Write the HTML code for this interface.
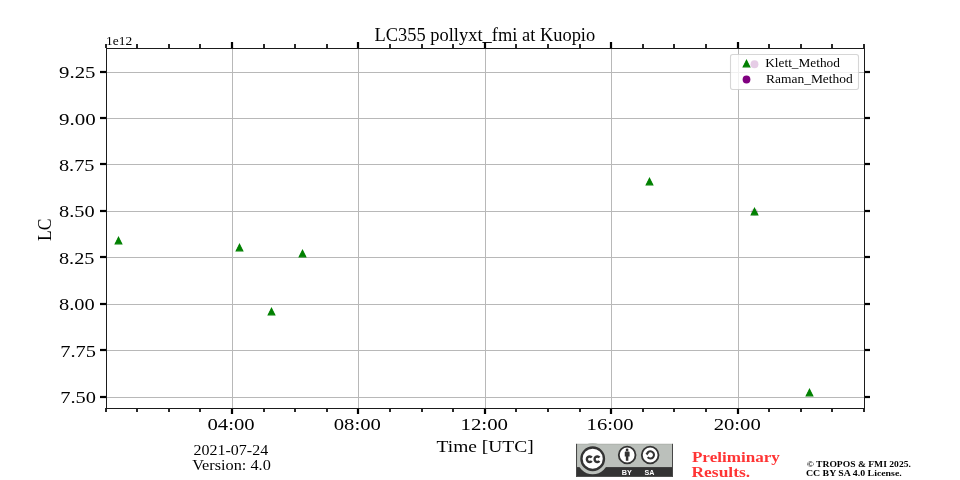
<!DOCTYPE html>
<html lang="en">
<head>
<meta charset="utf-8">
<title>LC355 pollyxt_fmi at Kuopio</title>
<style>
html,body{margin:0;padding:0;background:#fff;}
body{width:960px;height:480px;overflow:hidden;font-family:"Liberation Serif",serif;}
svg{display:block;}
text{white-space:pre;}
</style>
</head>
<body>
<svg width="960" height="480" viewBox="0 0 960 480">
<rect x="0" y="0" width="960" height="480" fill="#fff"/>
<g fill="#b8b8b8">
<rect x="232" y="49" width="1" height="359"/>
<rect x="358" y="49" width="1" height="359"/>
<rect x="485" y="49" width="1" height="359"/>
<rect x="611" y="49" width="1" height="359"/>
<rect x="738" y="49" width="1" height="359"/>
<rect x="107" y="72" width="757" height="1"/>
<rect x="107" y="118" width="757" height="1"/>
<rect x="107" y="164" width="757" height="1"/>
<rect x="107" y="211" width="757" height="1"/>
<rect x="107" y="257" width="757" height="1"/>
<rect x="107" y="304" width="757" height="1"/>
<rect x="107" y="350" width="757" height="1"/>
<rect x="107" y="397" width="757" height="1"/>
</g>
<circle cx="754.5" cy="212.3" r="3.5" fill="#800080" fill-opacity="0.2"/>
<g fill="#008000" stroke="#008000" stroke-width="1.111" stroke-linejoin="miter" stroke-miterlimit="10">
<path d="M118.50 237.167L115.167 243.833L121.833 243.833Z"/>
<path d="M239.50 244.167L236.167 250.833L242.833 250.833Z"/>
<path d="M271.50 308.167L268.167 314.833L274.833 314.833Z"/>
<path d="M302.50 250.167L299.167 256.833L305.833 256.833Z"/>
<path d="M649.50 178.167L646.167 184.833L652.833 184.833Z"/>
<path d="M754.50 208.167L751.167 214.833L757.833 214.833Z"/>
<path d="M809.50 389.167L806.167 395.833L812.833 395.833Z"/>
</g>
<g fill="#000">
<rect x="100" y="70.889" width="6" height="2.222"/>
<rect x="864" y="70.889" width="6" height="2.222"/>
<rect x="100" y="116.889" width="6" height="2.222"/>
<rect x="864" y="116.889" width="6" height="2.222"/>
<rect x="100" y="162.889" width="6" height="2.222"/>
<rect x="864" y="162.889" width="6" height="2.222"/>
<rect x="100" y="209.889" width="6" height="2.222"/>
<rect x="864" y="209.889" width="6" height="2.222"/>
<rect x="100" y="255.889" width="6" height="2.222"/>
<rect x="864" y="255.889" width="6" height="2.222"/>
<rect x="100" y="302.889" width="6" height="2.222"/>
<rect x="864" y="302.889" width="6" height="2.222"/>
<rect x="100" y="348.889" width="6" height="2.222"/>
<rect x="864" y="348.889" width="6" height="2.222"/>
<rect x="100" y="395.889" width="6" height="2.222"/>
<rect x="864" y="395.889" width="6" height="2.222"/>
<rect x="230.889" y="42" width="2.222" height="6"/>
<rect x="230.889" y="408" width="2.222" height="6"/>
<rect x="356.889" y="42" width="2.222" height="6"/>
<rect x="356.889" y="408" width="2.222" height="6"/>
<rect x="483.889" y="42" width="2.222" height="6"/>
<rect x="483.889" y="408" width="2.222" height="6"/>
<rect x="609.889" y="42" width="2.222" height="6"/>
<rect x="609.889" y="408" width="2.222" height="6"/>
<rect x="736.889" y="42" width="2.222" height="6"/>
<rect x="736.889" y="408" width="2.222" height="6"/>
<rect x="105.167" y="44" width="1.667" height="4"/>
<rect x="105.167" y="408" width="1.667" height="4"/>
<rect x="136.167" y="44" width="1.667" height="4"/>
<rect x="136.167" y="408" width="1.667" height="4"/>
<rect x="168.167" y="44" width="1.667" height="4"/>
<rect x="168.167" y="408" width="1.667" height="4"/>
<rect x="199.167" y="44" width="1.667" height="4"/>
<rect x="199.167" y="408" width="1.667" height="4"/>
<rect x="263.167" y="44" width="1.667" height="4"/>
<rect x="263.167" y="408" width="1.667" height="4"/>
<rect x="294.167" y="44" width="1.667" height="4"/>
<rect x="294.167" y="408" width="1.667" height="4"/>
<rect x="326.167" y="44" width="1.667" height="4"/>
<rect x="326.167" y="408" width="1.667" height="4"/>
<rect x="389.167" y="44" width="1.667" height="4"/>
<rect x="389.167" y="408" width="1.667" height="4"/>
<rect x="421.167" y="44" width="1.667" height="4"/>
<rect x="421.167" y="408" width="1.667" height="4"/>
<rect x="452.167" y="44" width="1.667" height="4"/>
<rect x="452.167" y="408" width="1.667" height="4"/>
<rect x="515.167" y="44" width="1.667" height="4"/>
<rect x="515.167" y="408" width="1.667" height="4"/>
<rect x="547.167" y="44" width="1.667" height="4"/>
<rect x="547.167" y="408" width="1.667" height="4"/>
<rect x="579.167" y="44" width="1.667" height="4"/>
<rect x="579.167" y="408" width="1.667" height="4"/>
<rect x="642.167" y="44" width="1.667" height="4"/>
<rect x="642.167" y="408" width="1.667" height="4"/>
<rect x="673.167" y="44" width="1.667" height="4"/>
<rect x="673.167" y="408" width="1.667" height="4"/>
<rect x="705.167" y="44" width="1.667" height="4"/>
<rect x="705.167" y="408" width="1.667" height="4"/>
<rect x="768.167" y="44" width="1.667" height="4"/>
<rect x="768.167" y="408" width="1.667" height="4"/>
<rect x="800.167" y="44" width="1.667" height="4"/>
<rect x="800.167" y="408" width="1.667" height="4"/>
<rect x="831.167" y="44" width="1.667" height="4"/>
<rect x="831.167" y="408" width="1.667" height="4"/>
<rect x="863.167" y="44" width="1.667" height="4"/>
<rect x="863.167" y="408" width="1.667" height="4"/>
</g>
<g fill="#1b1b1b">
<rect x="106" y="48" width="1" height="361"/>
<rect x="864" y="48" width="1" height="361"/>
<rect x="106" y="48" width="759" height="1"/>
<rect x="106" y="408" width="759" height="1"/>
</g>
<rect x="730.5" y="54.5" width="128" height="35" rx="2.2" ry="2.2" fill="#fff" fill-opacity="0.8" stroke="#ccc" stroke-opacity="0.8" stroke-width="1.111"/>
<g fill="#008000" stroke="#008000" stroke-width="1.111" stroke-linejoin="miter" stroke-miterlimit="10"><path d="M746.50 60.167L743.167 66.833L749.833 66.833Z"/></g>
<circle cx="754.5" cy="64.2" r="3.95" fill="#800080" fill-opacity="0.2"/>
<circle cx="746.5" cy="79.5" r="3.88" fill="#800080"/>
<g font-family='"Liberation Serif", serif' fill="#000" opacity="0.999">
<text x="374.47" y="40.76" font-size="17.81" textLength="220.72" lengthAdjust="spacingAndGlyphs">LC355 pollyxt_fmi at Kuopio</text>
<text x="106.02" y="44.92" font-size="13.33" textLength="26.21" lengthAdjust="spacingAndGlyphs">1e12</text>
<text x="436.54" y="452.35" font-size="17.70" textLength="97.22" lengthAdjust="spacingAndGlyphs">Time [UTC]</text>
<text x="0" y="0" font-size="18.60" textLength="22.51" lengthAdjust="spacingAndGlyphs" transform="translate(50.63 240.97) rotate(-90)">LC</text>
<text x="765.25" y="66.83" font-size="12.79" textLength="74.67" lengthAdjust="spacingAndGlyphs">Klett_Method</text>
<text x="766.02" y="82.83" font-size="12.79" textLength="86.77" lengthAdjust="spacingAndGlyphs">Raman_Method</text>
<text x="193.47" y="454.83" font-size="14.70" textLength="74.72" lengthAdjust="spacingAndGlyphs">2021-07-24</text>
<text x="192.15" y="470.25" font-size="14.70" textLength="78.64" lengthAdjust="spacingAndGlyphs">Version: 4.0</text>
<text x="691.93" y="461.78" font-size="14.40" textLength="88.01" lengthAdjust="spacingAndGlyphs" font-weight="bold" fill="#ff0000" fill-opacity="0.8">Preliminary</text>
<text x="691.46" y="477.00" font-size="14.40" textLength="58.77" lengthAdjust="spacingAndGlyphs" font-weight="bold" fill="#ff0000" fill-opacity="0.8">Results.</text>
<text x="806.70" y="467.44" font-size="8.40" textLength="104.19" lengthAdjust="spacingAndGlyphs" font-weight="bold">© TROPOS &amp; FMI 2025.</text>
<text x="805.90" y="476.29" font-size="8.40" textLength="95.88" lengthAdjust="spacingAndGlyphs" font-weight="bold">CC BY SA 4.0 License.</text>
<text x="59.03" y="77.81" font-size="17.50" textLength="36.47" lengthAdjust="spacingAndGlyphs">9.25</text>
<text x="58.96" y="124.71" font-size="17.50" textLength="36.78" lengthAdjust="spacingAndGlyphs">9.00</text>
<text x="58.91" y="170.71" font-size="17.50" textLength="35.59" lengthAdjust="spacingAndGlyphs">8.75</text>
<text x="58.94" y="216.71" font-size="17.50" textLength="35.67" lengthAdjust="spacingAndGlyphs">8.50</text>
<text x="58.97" y="263.81" font-size="17.50" textLength="35.46" lengthAdjust="spacingAndGlyphs">8.25</text>
<text x="58.91" y="309.71" font-size="17.50" textLength="35.80" lengthAdjust="spacingAndGlyphs">8.00</text>
<text x="60.18" y="356.96" font-size="17.50" textLength="35.75" lengthAdjust="spacingAndGlyphs">7.75</text>
<text x="60.18" y="402.71" font-size="17.50" textLength="35.80" lengthAdjust="spacingAndGlyphs">7.50</text>
<text x="207.53" y="429.80" font-size="17.50" textLength="47.17" lengthAdjust="spacingAndGlyphs">04:00</text>
<text x="333.78" y="429.80" font-size="17.50" textLength="47.17" lengthAdjust="spacingAndGlyphs">08:00</text>
<text x="460.49" y="429.55" font-size="17.50" textLength="47.58" lengthAdjust="spacingAndGlyphs">12:00</text>
<text x="586.61" y="429.80" font-size="17.50" textLength="47.03" lengthAdjust="spacingAndGlyphs">16:00</text>
<text x="713.68" y="429.80" font-size="17.50" textLength="47.12" lengthAdjust="spacingAndGlyphs">20:00</text>
</g>
<defs><clipPath id="bclip"><rect x="576" y="443.85" width="97" height="32.95"/></clipPath></defs>
<g opacity="0.8" clip-path="url(#bclip)">
<rect x="576" y="443.85" width="97" height="32.95" fill="#abb1aa"/>
<rect x="576" y="467.1" width="97" height="9.7" fill="#000"/>
<circle cx="592.7" cy="458.7" r="15.6" fill="#abb1aa"/>
<rect x="576" y="443.85" width="97" height="1" fill="#9ca29b"/>
<rect x="576" y="443.85" width="1.05" height="32.95" fill="#1a1a1a"/>
<rect x="672" y="443.85" width="1" height="32.95" fill="#1a1a1a"/>
<circle cx="592.7" cy="458.7" r="11.25" fill="#fff" stroke="#000" stroke-width="2.4"/>
<g fill="none" stroke="#000" stroke-width="2.4">
<path d="M591.75 457.5A2.75 2.75 0 1 0 591.75 461.0"/>
<path d="M599.45 457.5A2.75 2.75 0 1 0 599.45 461.0"/>
</g>
<circle cx="627.15" cy="455" r="8.35" fill="#fff" stroke="#000" stroke-width="1.85"/>
<circle cx="650.15" cy="455" r="8.35" fill="#fff" stroke="#000" stroke-width="1.85"/>
<circle cx="627.1" cy="450.0" r="1.4" fill="#000"/>
<path d="M624.75 452.3Q624.75 451.5 625.55 451.5H628.8Q629.6 451.5 629.6 452.3V456.5H628.35V460.85H625.85V456.5H624.75Z" fill="#000"/>
<path d="M647.02 453.67A3.6 3.6 0 1 1 647.64 457.21" fill="none" stroke="#000" stroke-width="2.05"/>
<path d="M645.5 453.1H648.9L647.2 455.5Z" fill="#000"/>
<g font-family='"Liberation Sans", sans-serif' font-weight="bold" font-size="7.5" fill="#fff">
<text x="621.8" y="474.75" textLength="10.1" lengthAdjust="spacingAndGlyphs">BY</text>
<text x="644.4" y="474.75" textLength="9.9" lengthAdjust="spacingAndGlyphs">SA</text>
</g>
</g>

</svg>
</body>
</html>
